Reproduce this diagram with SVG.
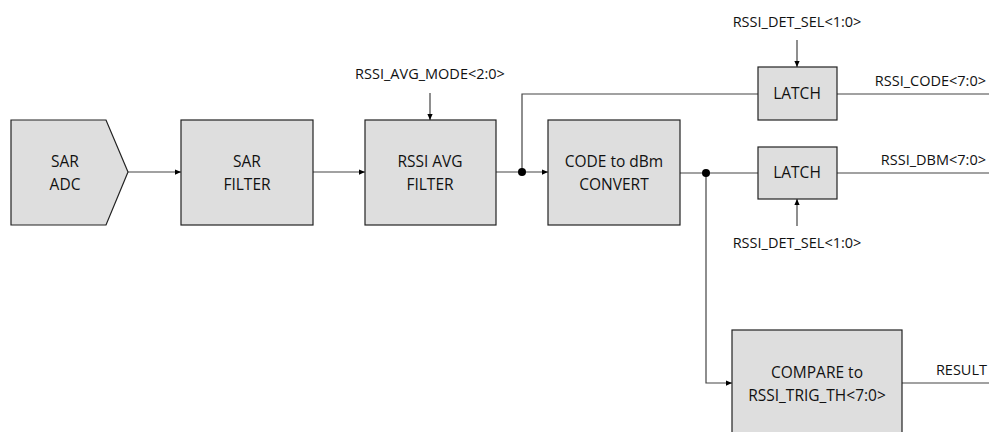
<svg xmlns="http://www.w3.org/2000/svg" width="989" height="432" viewBox="0 0 989 432">
<defs>
<marker id="ah" viewBox="0 0 8 8" refX="8" refY="4" markerWidth="6" markerHeight="6" orient="auto" markerUnits="userSpaceOnUse"><path d="M0,0.5 L8,4 L0,7.5 z" fill="#000"/></marker>
<style>
.box{fill:#dedede;stroke:#222;stroke-width:1.2}
.bt{font-family:"Open Sans","Noto Sans",sans-serif;font-size:15.5px;fill:#111;text-anchor:middle}
.lt{font-family:"Open Sans","Noto Sans",sans-serif;font-size:14.5px;fill:#111}
.w{fill:none;stroke:#444;stroke-width:1.2}
.wa{fill:none;stroke:#444;stroke-width:1.2;marker-end:url(#ah)}
</style>
</defs>
<rect width="989" height="432" fill="#fff"/>
<g id="connectors">
<line class="wa" x1="128" y1="172" x2="181" y2="172"/>
<line class="wa" x1="313" y1="172" x2="365" y2="172"/>
<line class="wa" x1="496" y1="172" x2="548" y2="172"/>
<line class="wa" x1="430" y1="93" x2="430" y2="120"/>
<polyline class="w" points="522,172 522,94 758,94"/>
<line class="w" x1="680" y1="173" x2="758" y2="173"/>
<polyline class="wa" points="706,173 706,383 732,383"/>
<line class="wa" x1="797" y1="40" x2="797" y2="67"/>
<line class="wa" x1="797" y1="226" x2="797" y2="199"/>
<line class="w" x1="837" y1="94" x2="989" y2="94"/>
<line class="w" x1="837" y1="173" x2="989" y2="173"/>
<line class="w" x1="902" y1="383" x2="989" y2="383"/>
<circle cx="522" cy="172" r="4" fill="#000"/>
<circle cx="706" cy="173" r="4" fill="#000"/>
<text class="lt" x="430" y="79" text-anchor="middle">RSSI_AVG_MODE&lt;2:0&gt;</text>
<text class="lt" x="797" y="27" text-anchor="middle">RSSI_DET_SEL&lt;1:0&gt;</text>
<text class="lt" x="797" y="248" text-anchor="middle">RSSI_DET_SEL&lt;1:0&gt;</text>
<text class="lt" x="986" y="86" text-anchor="end">RSSI_CODE&lt;7:0&gt;</text>
<text class="lt" x="986" y="165" text-anchor="end">RSSI_DBM&lt;7:0&gt;</text>
<text class="lt" x="987" y="375" text-anchor="end">RESULT</text>
</g>
<g id="sar_adc">
<polygon class="box" points="11,120 106,120 128,172 106,225 11,225"/>
<text class="bt" x="65" y="167">SAR</text>
<text class="bt" x="65" y="190">ADC</text>
</g>
<g id="sar_filter">
<rect class="box" x="181" y="120" width="132" height="105"/>
<text class="bt" x="247" y="167">SAR</text>
<text class="bt" x="247" y="190">FILTER</text>
</g>
<g id="rssi_avg_filter">
<rect class="box" x="365" y="120" width="131" height="105"/>
<text class="bt" x="430" y="167">RSSI AVG</text>
<text class="bt" x="430" y="190">FILTER</text>
</g>
<g id="code_to_dbm">
<rect class="box" x="548" y="120" width="132" height="105"/>
<text class="bt" x="614" y="167">CODE to dBm</text>
<text class="bt" x="614" y="190">CONVERT</text>
</g>
<g id="latch_code">
<rect class="box" x="758" y="67" width="79" height="53"/>
<text class="bt" x="797" y="99">LATCH</text>
</g>
<g id="latch_dbm">
<rect class="box" x="758" y="147" width="79" height="52"/>
<text class="bt" x="797" y="178">LATCH</text>
</g>
<g id="compare">
<rect class="box" x="732" y="330" width="170" height="110"/>
<text class="bt" x="817" y="378">COMPARE to</text>
<text class="bt" x="817" y="401">RSSI_TRIG_TH&lt;7:0&gt;</text>
</g>
</svg>
